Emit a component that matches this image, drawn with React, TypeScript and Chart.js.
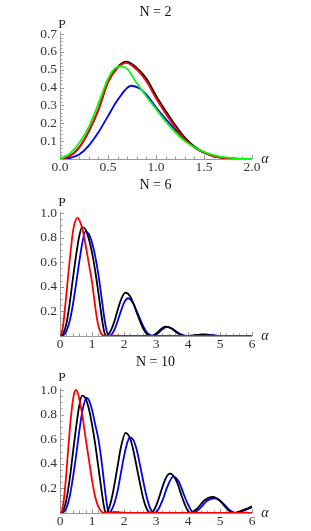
import React, { useEffect, useRef } from "react";
import { Chart, registerables } from "chart.js";
Chart.register(...registerables);

// ---------- N = 2 ----------
const n2BlackAlpha = [0, 0.1, 0.2, 0.3, 0.4, 0.5, 0.6, 0.69, 0.8, 0.9, 1.0, 1.1, 1.2, 1.3, 1.4, 1.5, 1.6, 1.7, 1.8, 2.0];
const n2BlackP = [0, 0.015, 0.065, 0.155, 0.275, 0.43, 0.515, 0.545, 0.51, 0.45, 0.355, 0.27, 0.19, 0.12, 0.07, 0.038, 0.017, 0.007, 0.002, 0];
const n2RedAlpha = [0, 0.1, 0.2, 0.3, 0.4, 0.5, 0.6, 0.69, 0.8, 0.9, 1.0, 1.1, 1.2, 1.3, 1.4, 1.5, 1.6, 1.7, 1.8, 2.0];
const n2RedP = [0, 0.015, 0.065, 0.155, 0.275, 0.43, 0.51, 0.538, 0.5, 0.435, 0.34, 0.255, 0.178, 0.112, 0.065, 0.035, 0.015, 0.006, 0.002, 0];
const n2GreenAlpha = [0, 0.1, 0.2, 0.3, 0.4, 0.5, 0.55, 0.63, 0.7, 0.8, 0.9, 1.0, 1.1, 1.2, 1.3, 1.4, 1.5, 1.6, 1.7, 1.8, 2.0];
const n2GreenP = [0, 0.03, 0.09, 0.18, 0.31, 0.45, 0.495, 0.52, 0.505, 0.425, 0.35, 0.28, 0.21, 0.15, 0.1, 0.066, 0.04, 0.022, 0.011, 0.005, 0];
const n2BlueAlpha = [0, 0.1, 0.2, 0.3, 0.4, 0.5, 0.6, 0.74, 0.83, 0.9, 1.0, 1.1, 1.2, 1.3, 1.4, 1.5, 1.6, 1.7, 1.8, 2.0];
const n2BlueP = [0, 0.005, 0.025, 0.075, 0.15, 0.24, 0.33, 0.41, 0.395, 0.36, 0.29, 0.225, 0.165, 0.11, 0.065, 0.035, 0.016, 0.006, 0.002, 0];

// ---------- N = 6 ----------
const n6RedAlpha = [0, 0.05, 0.1, 0.15, 0.2, 0.25, 0.3, 0.35, 0.4, 0.45, 0.54, 0.6, 0.7, 0.8, 0.9, 1.0, 1.05, 1.1, 1.15, 1.2, 1.25, 1.3, 1.4, 1.6, 1.8, 2.0, 6.0];
const n6RedP = [0, 0.02, 0.09, 0.21, 0.34, 0.48, 0.61, 0.73, 0.84, 0.91, 0.96, 0.945, 0.87, 0.74, 0.59, 0.44, 0.34, 0.24, 0.15, 0.085, 0.04, 0.015, 0, 0.003, 0.002, 0, 0];
const n6BlackAlpha = [0, 0.1, 0.2, 0.3, 0.4, 0.5, 0.6, 0.69, 0.8, 0.9, 1.0, 1.1, 1.2, 1.3, 1.36, 1.43, 1.5, 1.6, 1.7, 1.8, 1.9, 2.04, 2.2, 2.3, 2.4, 2.5, 2.6, 2.7, 2.83, 2.9, 3.0, 3.1, 3.2, 3.3, 3.4, 3.5, 3.6, 3.7, 3.8, 3.95, 4.1, 4.3, 4.45, 4.6, 4.8, 5.0, 5.3, 6.0];
const n6BlackP = [0, 0.02, 0.1, 0.26, 0.46, 0.65, 0.81, 0.885, 0.865, 0.79, 0.68, 0.53, 0.35, 0.16, 0.06, 0, 0.01, 0.05, 0.12, 0.21, 0.29, 0.352, 0.32, 0.26, 0.19, 0.12, 0.06, 0.02, 0, 0.004, 0.018, 0.042, 0.065, 0.076, 0.072, 0.058, 0.038, 0.02, 0.008, 0, 0.002, 0.008, 0.01, 0.008, 0.004, 0.001, 0, 0];
const n6BlueAlpha = [0, 0.1, 0.2, 0.3, 0.4, 0.5, 0.6, 0.7, 0.79, 0.9, 1.0, 1.1, 1.2, 1.3, 1.4, 1.45, 1.52, 1.6, 1.7, 1.8, 1.9, 2.0, 2.13, 2.3, 2.4, 2.5, 2.6, 2.7, 2.8, 2.9, 3.0, 3.1, 3.2, 3.34, 3.5, 3.6, 3.7, 3.8, 3.9, 4.0, 4.1, 4.2, 4.3, 4.5, 4.7, 4.8, 4.9, 5.0, 6.0];
const n6BlueP = [0, 0.005, 0.04, 0.12, 0.25, 0.42, 0.6, 0.76, 0.848, 0.83, 0.76, 0.65, 0.5, 0.31, 0.12, 0.05, 0, 0.01, 0.05, 0.12, 0.2, 0.27, 0.307, 0.26, 0.2, 0.14, 0.08, 0.035, 0.01, 0, 0.01, 0.03, 0.055, 0.074, 0.06, 0.042, 0.025, 0.012, 0.004, 0, 0.002, 0.005, 0.009, 0.013, 0.009, 0.005, 0.002, 0, 0];

// ---------- N = 10 ----------
const n10RedAlpha = [0, 0.05, 0.1, 0.15, 0.2, 0.25, 0.3, 0.35, 0.4, 0.45, 0.5, 0.55, 0.6, 0.7, 0.8, 0.9, 1.0, 1.1, 1.2, 1.3, 1.4, 1.55, 1.7, 1.85, 2.0, 2.2, 6.0];
const n10RedP = [0, 0.01, 0.07, 0.18, 0.33, 0.5, 0.66, 0.8, 0.91, 0.98, 1.0, 0.98, 0.93, 0.79, 0.61, 0.44, 0.27, 0.13, 0.05, 0.012, 0, 0.004, 0.008, 0.005, 0.002, 0, 0];
const n10BlackAlpha = [0, 0.1, 0.2, 0.3, 0.4, 0.5, 0.6, 0.69, 0.8, 0.9, 1.0, 1.1, 1.2, 1.3, 1.37, 1.43, 1.5, 1.6, 1.7, 1.8, 1.9, 2.05, 2.2, 2.3, 2.4, 2.5, 2.6, 2.7, 2.78, 2.85, 2.93, 3.05, 3.15, 3.3, 3.44, 3.6, 3.7, 3.8, 3.9, 3.98, 4.07, 4.15, 4.3, 4.5, 4.77, 5.0, 5.1, 5.2, 5.3, 5.4, 5.5, 5.6, 5.7, 5.8, 5.9, 6.0];
const n10BlackP = [0, 0.02, 0.11, 0.27, 0.48, 0.69, 0.87, 0.954, 0.93, 0.85, 0.72, 0.56, 0.37, 0.18, 0.06, 0, 0.02, 0.1, 0.23, 0.38, 0.53, 0.652, 0.6, 0.5, 0.37, 0.24, 0.12, 0.04, 0.008, 0, 0.02, 0.09, 0.17, 0.28, 0.32, 0.28, 0.22, 0.14, 0.07, 0.025, 0, 0.01, 0.04, 0.1, 0.13, 0.1, 0.07, 0.04, 0.015, 0, 0.004, 0.012, 0.022, 0.032, 0.043, 0.055];
const n10BlueAlpha = [0, 0.1, 0.2, 0.3, 0.4, 0.5, 0.6, 0.7, 0.83, 0.9, 1.0, 1.1, 1.2, 1.3, 1.4, 1.46, 1.52, 1.6, 1.7, 1.8, 1.9, 2.0, 2.1, 2.19, 2.3, 2.4, 2.5, 2.6, 2.7, 2.8, 2.88, 2.95, 3.05, 3.2, 3.35, 3.54, 3.7, 3.8, 3.9, 4.0, 4.1, 4.17, 4.25, 4.4, 4.6, 4.84, 5.05, 5.2, 5.3, 5.4, 5.47, 5.6, 5.7, 5.8, 5.9, 6.0];
const n10BlueP = [0, 0.005, 0.04, 0.13, 0.28, 0.46, 0.66, 0.83, 0.937, 0.92, 0.84, 0.72, 0.6, 0.42, 0.2, 0.08, 0, 0.02, 0.08, 0.18, 0.32, 0.46, 0.57, 0.615, 0.59, 0.51, 0.39, 0.26, 0.14, 0.05, 0.012, 0, 0.02, 0.1, 0.21, 0.295, 0.26, 0.2, 0.13, 0.07, 0.02, 0, 0.01, 0.045, 0.1, 0.12, 0.09, 0.05, 0.025, 0.007, 0, 0.006, 0.015, 0.025, 0.036, 0.047];

// ---------- ticks ----------
const n2XTicks = [0, 0.5, 1.0, 1.5, 2.0];
const n2XTickLabels = ["0.0", "0.5", "1.0", "1.5", "2.0"];
const n2YTicks = [0.1, 0.2, 0.3, 0.4, 0.5, 0.6, 0.7];
const n2YTickLabels = ["0.1", "0.2", "0.3", "0.4", "0.5", "0.6", "0.7"];
const bigXTicks = [0, 1, 2, 3, 4, 5, 6];
const bigXTickLabels = ["0", "1", "2", "3", "4", "5", "6"];
const bigYTicks = [0.2, 0.4, 0.6, 0.8, 1.0];
const bigYTickLabels = ["0.2", "0.4", "0.6", "0.8", "1.0"];

const titles = ["N = 2", "N = 6", "N = 10"];

const BLACK = "#000000";
const RED = "#ff0000";
const BLUE = "#0000ff";
const GREEN = "#00ff00";
const AXIS = "#9a9a9a";
const LABEL = "#333333";
const FONT = '"Liberation Serif", "Times New Roman", serif';

type Series = { alpha: number[]; p: number[]; color: string };
type PanelCfg = {
  title: string;
  top: number;
  height: number;
  padTop: number;
  padBottom: number;
  xMax: number;
  yMax: number;
  xTicks: number[];
  xTickLabels: string[];
  xMinor: number;
  yTicks: number[];
  yTickLabels: string[];
  yMinor: number;
  titleY: number;
  pY: number;
  series: Series[];
};

const panels: PanelCfg[] = [
  {
    title: titles[0], top: 0, height: 176, padTop: 31.3, padBottom: 17,
    xMax: 2.0, yMax: 0.715,
    xTicks: n2XTicks, xTickLabels: n2XTickLabels, xMinor: 0.1,
    yTicks: n2YTicks, yTickLabels: n2YTickLabels, yMinor: 0.02,
    titleY: 12, pY: 24,
    series: [
      { alpha: n2GreenAlpha, p: n2GreenP, color: GREEN },
      { alpha: n2RedAlpha, p: n2RedP, color: RED },
      { alpha: n2BlackAlpha, p: n2BlackP, color: BLACK },
      { alpha: n2BlueAlpha, p: n2BlueP, color: BLUE },
    ],
  },
  {
    title: titles[1], top: 176, height: 176, padTop: 35.8, padBottom: 16,
    xMax: 6, yMax: 1.01,
    xTicks: bigXTicks, xTickLabels: bigXTickLabels, xMinor: 0.2,
    yTicks: bigYTicks, yTickLabels: bigYTickLabels, yMinor: 0.05,
    titleY: 9, pY: 26,
    series: [
      { alpha: n6RedAlpha, p: n6RedP, color: RED },
      { alpha: n6BlackAlpha, p: n6BlackP, color: BLACK },
      { alpha: n6BlueAlpha, p: n6BlueP, color: BLUE },
    ],
  },
  {
    title: titles[2], top: 352, height: 179, padTop: 36.3, padBottom: 18,
    xMax: 6, yMax: 1.014,
    xTicks: bigXTicks, xTickLabels: bigXTickLabels, xMinor: 0.2,
    yTicks: bigYTicks, yTickLabels: bigYTickLabels, yMinor: 0.05,
    titleY: 10, pY: 25,
    series: [
      { alpha: n10RedAlpha, p: n10RedP, color: RED },
      { alpha: n10BlackAlpha, p: n10BlackP, color: BLACK },
      { alpha: n10BlueAlpha, p: n10BlueP, color: BLUE },
    ],
  },
];

function PanelChart({ cfg }: { cfg: PanelCfg }) {
  const ref = useRef<HTMLCanvasElement | null>(null);
  useEffect(() => {
    if (!ref.current) return;
    const axesPlugin = {
      id: "mmaAxes",
      beforeDatasetsDraw(chart: any) {
        const ctx = chart.ctx as CanvasRenderingContext2D;
        const xs = chart.scales.x;
        const ys = chart.scales.y;
        const x0 = xs.getPixelForValue(0);
        const xEnd = xs.getPixelForValue(cfg.xMax);
        const y0 = ys.getPixelForValue(0);
        const yEnd = ys.getPixelForValue(cfg.yMax);
        ctx.save();
        ctx.strokeStyle = AXIS;
        ctx.lineWidth = 1;
        ctx.beginPath();
        ctx.moveTo(x0, y0 + 0.5);
        ctx.lineTo(xEnd, y0 + 0.5);
        ctx.moveTo(x0 + 0.5, y0);
        ctx.lineTo(x0 + 0.5, yEnd);
        ctx.stroke();
        ctx.beginPath();
        const nx = Math.round(cfg.xMax / cfg.xMinor);
        for (let i = 1; i <= nx; i++) {
          const v = i * cfg.xMinor;
          const isMajor = cfg.xTicks.some((t) => Math.abs(t - v) < 1e-6);
          const px = Math.round(xs.getPixelForValue(v)) + 0.5;
          ctx.moveTo(px, y0);
          ctx.lineTo(px, y0 - (isMajor ? 4 : 2.5));
        }
        const ny = Math.floor(cfg.yMax / cfg.yMinor + 1e-6);
        for (let i = 1; i <= ny; i++) {
          const v = i * cfg.yMinor;
          const isMajor = cfg.yTicks.some((t) => Math.abs(t - v) < 1e-6);
          const py = Math.round(ys.getPixelForValue(v)) + 0.5;
          ctx.moveTo(x0, py);
          ctx.lineTo(x0 + (isMajor ? 4 : 2.5), py);
        }
        ctx.stroke();
        ctx.fillStyle = LABEL;
        ctx.font = `13.5px ${FONT}`;
        ctx.textAlign = "center";
        ctx.textBaseline = "middle";
        cfg.xTicks.forEach((t, i) => {
          ctx.fillText(cfg.xTickLabels[i], xs.getPixelForValue(t), y0 + 8.5);
        });
        ctx.textAlign = "right";
        cfg.yTicks.forEach((t, i) => {
          ctx.fillText(cfg.yTickLabels[i], x0 - 3, ys.getPixelForValue(t));
        });
        ctx.fillStyle = "#222";
        ctx.textAlign = "center";
        ctx.font = `13.5px ${FONT}`;
        ctx.fillText("P", x0 + 2, cfg.pY);
        ctx.font = `italic 14px ${FONT}`;
        ctx.fillText("\u03b1", xEnd + 13, y0 + 0.5);
        ctx.fillStyle = "#111";
        ctx.font = `14px ${FONT}`;
        ctx.fillText(cfg.title, 155.5, cfg.titleY);
        ctx.restore();
      },
    };
    const chart = new Chart(ref.current, {
      type: "line",
      data: {
        datasets: cfg.series.map((s) => ({
          data: s.alpha.map((a, i) => ({ x: a, y: s.p[i] })),
          borderColor: s.color,
          backgroundColor: s.color,
          borderWidth: 1.8,
          pointRadius: 0,
          fill: false,
          cubicInterpolationMode: "monotone" as const,
        })),
      },
      options: {
        animation: false,
        responsive: false,
        maintainAspectRatio: false,
        events: [],
        layout: { padding: { left: 60, right: 59, top: cfg.padTop, bottom: cfg.padBottom } },
        plugins: { legend: { display: false }, tooltip: { enabled: false }, title: { display: false } },
        scales: {
          x: { type: "linear", min: 0, max: cfg.xMax, display: false },
          y: { type: "linear", min: 0, max: cfg.yMax, display: false },
        },
      },
      plugins: [axesPlugin],
    });
    return () => chart.destroy();
  }, [cfg]);
  return (
    <div style={{ position: "absolute", left: 0, top: cfg.top, width: 311, height: cfg.height }}>
      <canvas ref={ref} width={311} height={cfg.height} style={{ width: 311, height: cfg.height, display: "block" }} />
    </div>
  );
}

export default function App() {
  return (
    <div style={{ position: "absolute", left: 0, top: 0, width: 311, height: 531, background: "#fff" }}>
      {panels.map((p) => (
        <PanelChart key={p.title} cfg={p} />
      ))}
    </div>
  );
}
